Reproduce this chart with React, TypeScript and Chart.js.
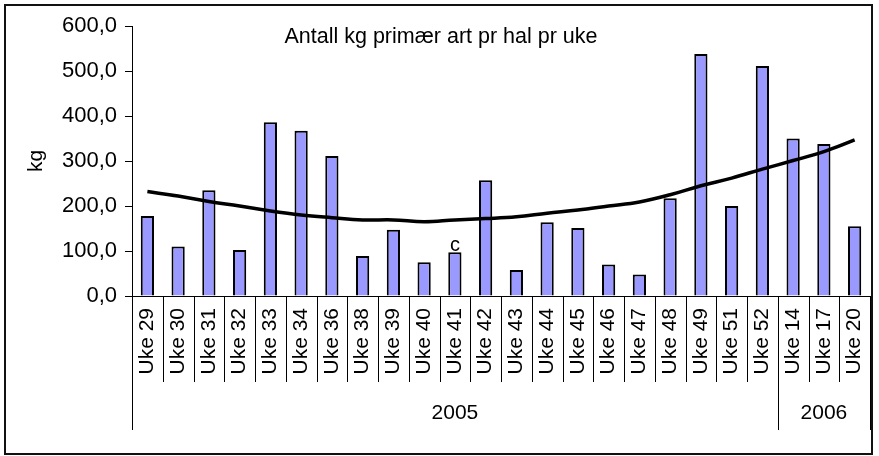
import React, { useEffect, useRef } from "react";
import { Chart, registerables } from "chart.js";

Chart.register(...registerables);

const weeks = [
  "Uke 29", "Uke 30", "Uke 31", "Uke 32", "Uke 33", "Uke 34", "Uke 36", "Uke 38",
  "Uke 39", "Uke 40", "Uke 41", "Uke 42", "Uke 43", "Uke 44", "Uke 45", "Uke 46",
  "Uke 47", "Uke 48", "Uke 49", "Uke 51", "Uke 52", "Uke 14", "Uke 17", "Uke 20",
];
const kgValues = [
  178, 110, 235, 102, 386, 367, 311, 89, 147, 75, 97, 257, 58, 164, 151, 70,
  48, 217, 538, 200, 511, 350, 338, 155,
];
const trendValues = [
  232, 222, 210, 200, 189, 180, 174, 169, 169, 165, 169, 172, 176, 184, 191, 200,
  209, 225, 245, 262, 282, 301, 321, 347,
];
const years = ["2005", "2006"];
const yearStartIndex = [0, 21];
const yTicks = [0, 100, 200, 300, 400, 500, 600];
const titleText = "Antall kg primær art pr hal pr uke";
const yAxisLabel = "kg";
const noteLabel = "c";
const noteIndex = 10;

const FONT = "'Liberation Sans', Arial, sans-serif";

export default function App() {
  const ref = useRef<HTMLCanvasElement>(null);
  useEffect(() => {
    if (!ref.current) return;
    const overlay = {
      id: "overlay",
      afterDraw(chart: any) {
        const ctx = chart.ctx;
        const x = chart.scales.x;
        const y = chart.scales.y;
        const area = chart.chartArea;
        const step = x.getPixelForValue(1) - x.getPixelForValue(0);
        ctx.save();
        // category dividers
        ctx.strokeStyle = "#000";
        ctx.lineWidth = 1;
        for (let i = 0; i <= weeks.length; i++) {
          const px = Math.round(x.getPixelForValue(i) - step / 2) + 0.5;
          const isGroup = yearStartIndex.includes(i) || i === weeks.length;
          ctx.beginPath();
          ctx.moveTo(px, area.bottom);
          ctx.lineTo(px, isGroup ? area.bottom + 134 : area.bottom + 86);
          ctx.stroke();
        }
        // year labels
        ctx.fillStyle = "#000";
        ctx.font = `21px ${FONT}`;
        ctx.textAlign = "center";
        ctx.textBaseline = "middle";
        years.forEach((yr, gi) => {
          const s = yearStartIndex[gi];
          const e = gi + 1 < yearStartIndex.length ? yearStartIndex[gi + 1] : weeks.length;
          const x0 = x.getPixelForValue(s) - step / 2;
          const x1 = x.getPixelForValue(e) - step / 2;
          ctx.fillText(yr, (x0 + x1) / 2, area.bottom + 117);
        });
        // title
        ctx.textBaseline = "alphabetic";
        ctx.font = `21.5px ${FONT}`;
        ctx.fillText(titleText, 441, 43);
        // note label
        ctx.font = `20px ${FONT}`;
        ctx.fillText(noteLabel, x.getPixelForValue(noteIndex), y.getPixelForValue(kgValues[noteIndex]) - 1);
        // y axis label
        ctx.save();
        ctx.translate(36, (area.top + area.bottom) / 2);
        ctx.rotate(-Math.PI / 2);
        ctx.font = `21px ${FONT}`;
        ctx.textAlign = "center";
        ctx.textBaseline = "middle";
        ctx.fillText(yAxisLabel, 0, 0);
        ctx.restore();
        // outer border
        ctx.strokeStyle = "#111";
        ctx.lineWidth = 2;
        ctx.strokeRect(5, 5, 867, 449);
        ctx.restore();
      },
    };
    const chart = new Chart(ref.current, {
      type: "bar",
      data: {
        labels: weeks,
        datasets: [
          {
            type: "line",
            data: trendValues,
            borderColor: "#000",
            borderWidth: 3.5,
            pointRadius: 0,
            tension: 0.4,
            fill: false,
            order: 0,
          } as any,
          {
            type: "bar",
            data: kgValues,
            backgroundColor: "#9999FF",
            borderColor: "#000",
            borderWidth: 2,
            categoryPercentage: 1,
            barPercentage: 0.43,
            order: 1,
          },
        ],
      },
      options: {
        animation: false,
        responsive: false,
        layout: { padding: { left: 0, top: 26, right: 9, bottom: 0 } },
        plugins: {
          legend: { display: false },
          title: { display: false },
          tooltip: { enabled: false },
        },
        scales: {
          x: {
            grid: { display: false, drawTicks: false },
            border: { display: true, color: "#000", width: 1 },
            ticks: {
              autoSkip: false,
              minRotation: 90,
              maxRotation: 90,
              padding: 12,
              color: "#000",
              font: { family: FONT, size: 21 },
            },
            afterFit(scale: any) {
              scale.height = 160;
              scale.paddingLeft = 0;
              scale.paddingRight = 0;
            },
          },
          y: {
            min: 0,
            max: 600,
            afterBuildTicks(scale: any) {
              scale.ticks = yTicks.map((v) => ({ value: v }));
            },
            grid: { display: true, drawOnChartArea: false, drawTicks: true, tickLength: 7, color: "#000" },
            border: { display: true, color: "#000", width: 1 },
            ticks: {
              padding: 8,
              color: "#000",
              font: { family: FONT, size: 22 },
              callback: (v: any) => Number(v).toFixed(1).replace(".", ","),
            },
            afterFit(scale: any) {
              scale.width = 132;
              scale.paddingTop = 0;
              scale.paddingBottom = 0;
            },
          },
        },
      },
      plugins: [overlay],
    });
    return () => chart.destroy();
  }, []);
  return (
    <div style={{ position: "absolute", left: 0, top: 0, width: 879, height: 456, background: "#fff" }}>
      <canvas ref={ref} width={879} height={456} />
    </div>
  );
}
